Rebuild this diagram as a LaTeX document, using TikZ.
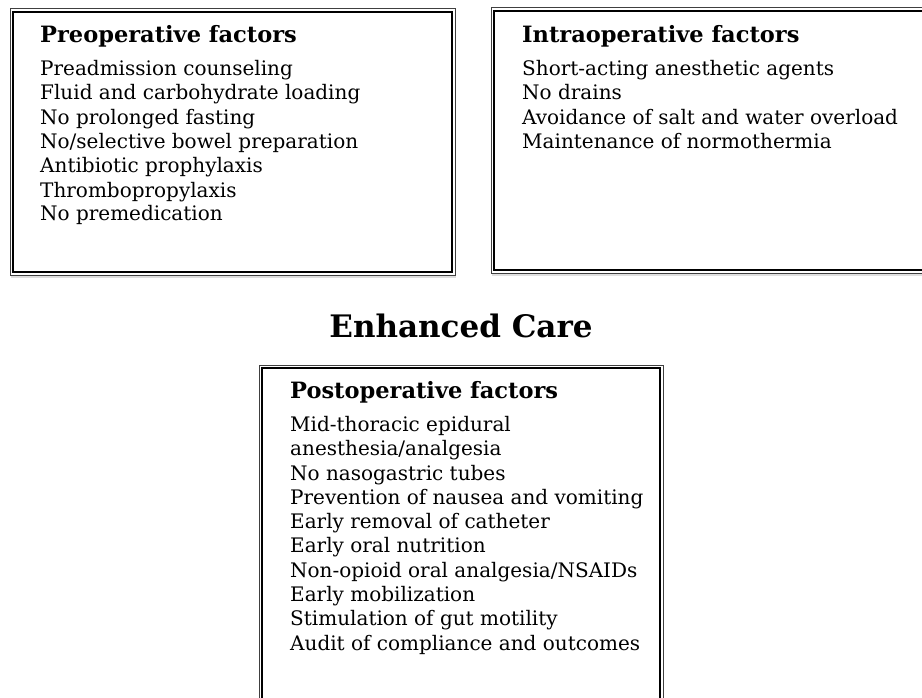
\documentclass[tikz,border=0pt]{standalone}
\usepackage{fontspec}
\setmainfont{DejaVu Serif}
\usetikzlibrary{shadows}
\tikzset{
  outerbox/.style={draw=black!75, line width=1pt, fill=white, drop shadow={opacity=0.25, shadow xshift=1pt, shadow yshift=-3pt}},
  innerbox/.style={draw=black, line width=2.2pt},
  item/.style={anchor=base west, inner sep=0pt, font=\fontsize{20}{24}\selectfont},
  head/.style={anchor=base west, inner sep=0pt, font=\fontsize{22.5}{26}\selectfont\bfseries},
  title/.style={anchor=base, inner sep=0pt, font=\fontsize{31}{36}\selectfont\bfseries}
}
\begin{document}
\begin{tikzpicture}[x=1pt,y=-1pt]
\useasboundingbox (0,0) rectangle (922,698);
\clip (0,0) rectangle (922,698);
% boxes
\path[outerbox] (10,9) rectangle (455,275);
\path[innerbox] (13,12) rectangle (452,272);
\path[outerbox] (491,8) rectangle (940,273);
\path[innerbox] (494,11) rectangle (940,270);
\path[outerbox] (259,365) rectangle (663,720);
\path[innerbox] (262,368) rectangle (660,720);
% left
\node[head] (lh) at (40,43) {Preoperative factors};
\node[item] (l1) at (40,76) {Preadmission counseling};
\node[item] (l2) at (40,100) {Fluid and carbohydrate loading};
\node[item] (l3) at (40,125) {No prolonged fasting};
\node[item] (l4) at (40,149) {No/selective bowel preparation};
\node[item] (l5) at (40,173) {Antibiotic prophylaxis};
\node[item] (l6) at (40,197) {Thrombopropylaxis};
\node[item] (l7) at (40,221) {No premedication};
% right
\node[head] (rh) at (522,43) {Intraoperative factors};
\node[item] (r1) at (522,76) {Short-acting anesthetic agents};
\node[item] (r2) at (522,100) {No drains};
\node[item] (r3) at (522,125) {Avoidance of salt and water overload};
\node[item] (r4) at (522,149) {Maintenance of normothermia};
% title
\node[title] (t) at (461,337) {Enhanced Care};
% bottom
\node[head] (bh) at (290,398) {Postoperative factors};
\node[item] (b1) at (290,431) {Mid-thoracic epidural};
\node[item] (b2) at (290,455) {anesthesia/analgesia};
\node[item] (b3) at (290,480) {No nasogastric tubes};
\node[item] (b4) at (290,504) {Prevention of nausea and vomiting};
\node[item] (b5) at (290,528) {Early removal of catheter};
\node[item] (b6) at (290,552) {Early oral nutrition};
\node[item] (b7) at (290,577) {Non-opioid oral analgesia/NSAIDs};
\node[item] (b8) at (290,601) {Early mobilization};
\node[item] (b9) at (290,625) {Stimulation of gut motility};
\node[item] (b10) at (290,650) {Audit of compliance and outcomes};
\end{tikzpicture}
\end{document}
